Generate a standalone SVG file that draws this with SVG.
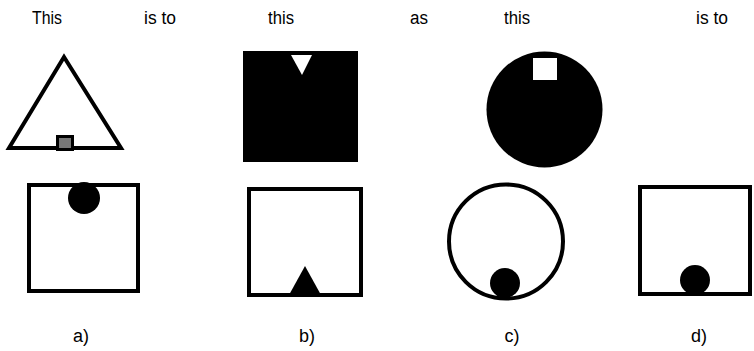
<svg xmlns="http://www.w3.org/2000/svg" width="754" height="351" viewBox="0 0 754 351">
<style>
text{font-family:"Liberation Sans",Arial,sans-serif;font-size:18px;fill:#000;text-anchor:middle}
.ol{fill:#fff;stroke:#000;stroke-width:4}
.blk{fill:#000;stroke:none}
.wht{fill:#fff;stroke:none}
</style>
<rect width="754" height="351" fill="#fff"/>
<g id="header">
<text x="47" y="24" textLength="30" lengthAdjust="spacingAndGlyphs">This</text>
<text x="160" y="24" textLength="32" lengthAdjust="spacingAndGlyphs">is to</text>
<text x="281" y="24" textLength="26" lengthAdjust="spacingAndGlyphs">this</text>
<text x="419" y="24" textLength="18" lengthAdjust="spacingAndGlyphs">as</text>
<text x="517" y="24" textLength="26" lengthAdjust="spacingAndGlyphs">this</text>
<text x="712" y="24" textLength="32" lengthAdjust="spacingAndGlyphs">is to</text>
</g>
<g id="fig-triangle">
<polygon class="ol" points="9,148 64,57 121,148"/>
<rect x="57.5" y="136.5" width="15" height="13" fill="#777" stroke="#000" stroke-width="3"/>
</g>
<g id="fig-black-square">
<rect class="blk" x="243" y="51" width="115" height="111"/>
<polygon class="wht" points="291,55 312,55 302,75"/>
</g>
<g id="fig-black-circle">
<circle class="blk" cx="544.5" cy="109.5" r="58"/>
<rect class="wht" x="533" y="58" width="24" height="22"/>
</g>
<g id="option-a">
<rect class="ol" x="29" y="185" width="109" height="106"/>
<circle class="blk" cx="84" cy="198" r="16"/>
<text x="81" y="342">a)</text>
</g>
<g id="option-b">
<rect class="ol" x="249" y="189" width="112" height="106"/>
<polygon class="blk" points="305,266 289,295 321,295"/>
<text x="307" y="342">b)</text>
</g>
<g id="option-c">
<circle class="ol" cx="506" cy="241.5" r="57"/>
<circle class="blk" cx="505" cy="283" r="15"/>
<text x="512" y="342">c)</text>
</g>
<g id="option-d">
<rect class="ol" x="640" y="187" width="110" height="107"/>
<circle class="blk" cx="695" cy="280" r="15"/>
<text x="699" y="342">d)</text>
</g>
</svg>
